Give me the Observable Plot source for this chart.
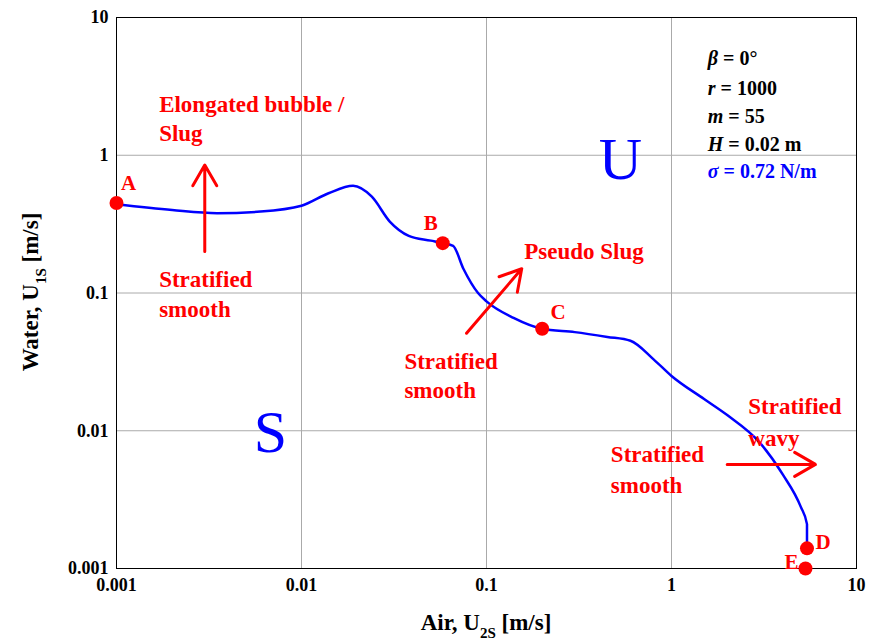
<!DOCTYPE html>
<html><head><meta charset="utf-8">
<script src="https://cdn.jsdelivr.net/npm/d3@7"></script>
<script src="https://cdn.jsdelivr.net/npm/@observablehq/plot@0.6"></script>
<style>body{margin:0;background:#fff}</style>
</head><body><div id="c"></div>
<script>
const curveX = [0.001,0.002,0.0035,0.006,0.01,0.014,0.019,0.024,0.03,0.038,0.05,0.058,0.066,0.075,0.09,0.1,0.14,0.2,0.3,0.45,0.6,0.8,1,1.5,2,3,4,5,5.4,5.4];
const curveY = [0.44,0.4,0.38,0.39,0.43,0.53,0.6,0.5,0.33,0.26,0.24,0.23,0.22,0.15,0.1,0.087,0.066,0.055,0.052,0.048,0.045,0.033,0.025,0.017,0.013,0.0082,0.0048,0.0028,0.0021,0.0014];
const ptX = [0.001,0.058,0.2,5.4,5.3];
const ptY = [0.45,0.23,0.055,0.0014,0.001];
const ptLab = ["A","B","C","D","E"];
const ptDx = [12,-12,16,16,-14];
const ptDy = [-20,-20,-16,-6,-6];
const arrows = [
 {x1:0.003,y1:0.2,x2:0.003,y2:0.85},
 {x1:0.078,y1:0.051,x2:0.155,y2:0.15},
 {x1:2.0,y1:0.0057,x2:6.0,y2:0.0057}
];
const notes = [
 {x:0.0017,y:2.35,t:"Elongated bubble /"},
 {x:0.0017,y:1.44,t:"Slug"},
 {x:0.0017,y:0.126,t:"Stratified"},
 {x:0.0017,y:0.076,t:"smooth"},
 {x:0.16,y:0.2,t:"Pseudo Slug"},
 {x:0.036,y:0.032,t:"Stratified"},
 {x:0.036,y:0.0197,t:"smooth"},
 {x:2.6,y:0.015,t:"Stratified"},
 {x:2.6,y:0.0088,t:"wavy"},
 {x:0.47,y:0.0067,t:"Stratified"},
 {x:0.47,y:0.004,t:"smooth"}
];
const paramSym = ["β","r","m","H","σ"];
const paramVal = [" = 0°"," = 1000"," = 55"," = 0.02 m"," = 0.72 N/m"];
const paramY = [5.06,3.06,1.92,1.2,0.765];
const ticks = [0.001,0.01,0.1,1,10];
const tickLab = ["0.001","0.01","0.1","1","10"];
const curve = curveX.map((x,i)=>({x,y:curveY[i]}));
const pts = ptX.map((x,i)=>({x,y:ptY[i],l:ptLab[i],dx:ptDx[i],dy:ptDy[i]}));
const params = paramSym.map((s,i)=>({s,v:paramVal[i],y:paramY[i],t:s+paramVal[i]}));
const fmt = d => tickLab[ticks.indexOf(d)] ?? "";
const ser = "Liberation Serif, Times New Roman, serif";
const chart = Plot.plot({
  width:876,height:644,marginLeft:116,marginRight:20,marginTop:17,marginBottom:76,
  style:{fontFamily:ser,fontSize:"18px",fontWeight:"bold",color:"#000"},
  x:{type:"log",domain:[0.001,10],ticks,tickFormat:fmt,label:null,tickSize:0,tickPadding:10},
  y:{type:"log",domain:[0.001,10],ticks,tickFormat:fmt,label:null,tickSize:0,tickPadding:8},
  marks:[
    Plot.gridX(ticks,{stroke:"#aaa",strokeOpacity:1}),
    Plot.gridY(ticks,{stroke:"#aaa",strokeOpacity:1}),
    Plot.frame({stroke:"#000"}),
    Plot.line(curve,{x:"x",y:"y",stroke:"#0000ff",strokeWidth:2.5,curve:"monotone-x"}),
    Plot.dot(pts,{x:"x",y:"y",r:7,fill:"#ff0000"}),
    ...pts.map(p=>Plot.text([p],{x:"x",y:"y",text:"l",dx:p.dx,dy:p.dy,fill:"#ff0000",fontSize:21,fontWeight:"bold"})),
    Plot.arrow(arrows,{x1:"x1",y1:"y1",x2:"x2",y2:"y2",stroke:"#ff0000",strokeWidth:3,headLength:12}),
    Plot.text(notes,{x:"x",y:"y",text:"t",fill:"#ff0000",fontSize:23,fontWeight:"bold",textAnchor:"start",fontFamily:ser}),
    Plot.text(["S"],{x:[0.0068],y:[0.0097],text:d=>d,fill:"#0000ff",fontSize:60,fontWeight:"normal"}),
    Plot.text(["U"],{x:[0.53],y:[0.92],text:d=>d,fill:"#0000ff",fontSize:60,fontWeight:"normal"}),
    Plot.text(params,{x:()=>1.57,y:"y",text:"t",textAnchor:"start",fontSize:20,fontWeight:"bold",fill:(d,i)=>d.s==="σ"?"#0000ff":"#000",className:"params"})
  ]
});
const svg = d3.select(chart);
svg.selectAll(".params text").each(function(){
  const t = this.textContent;
  const p = params.find(q=>q.t===t);
  if (p) { d3.select(this).text(null);
    d3.select(this).append("tspan").attr("font-style","italic").text(p.s);
    d3.select(this).append("tspan").text(p.v); }
});
svg.append("text").attr("x",(116+856)/2).attr("y",630).attr("text-anchor","middle")
  .style("font-size","23px").style("font-weight","bold").style("font-family",ser)
  .html('Air, U<tspan baseline-shift="sub" font-size="15">2S</tspan> [m/s]');
svg.append("text").attr("transform","translate(38,292) rotate(-90)").attr("text-anchor","middle")
  .style("font-size","23px").style("font-weight","bold").style("font-family",ser)
  .html('Water, U<tspan baseline-shift="sub" font-size="15">1S</tspan> [m/s]');
document.getElementById("c").appendChild(chart);
</script></body></html>
